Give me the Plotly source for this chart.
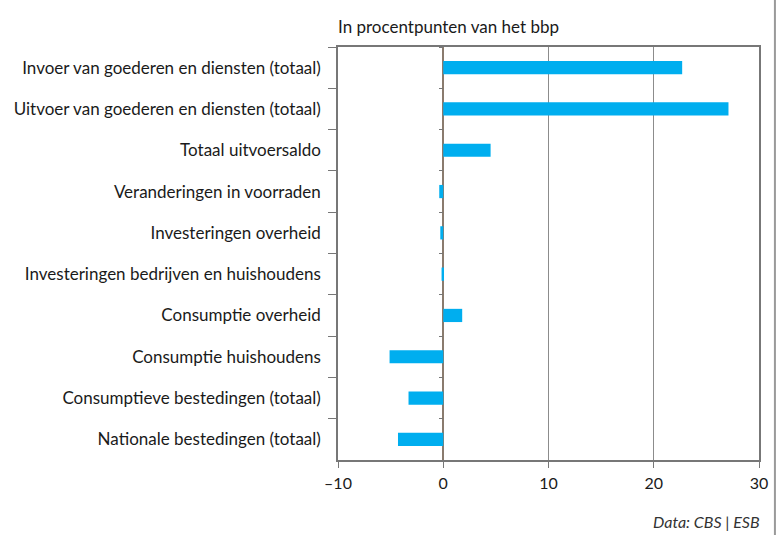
import plotly.graph_objects as go

categories = [
    "Invoer van goederen en diensten (totaal)",
    "Uitvoer van goederen en diensten (totaal)",
    "Totaal uitvoersaldo",
    "Veranderingen in voorraden",
    "Investeringen overheid",
    "Investeringen bedrijven en huishoudens",
    "Consumptie overheid",
    "Consumptie huishoudens",
    "Consumptieve bestedingen (totaal)",
    "Nationale bestedingen (totaal)",
]
values = [22.7, 27.1, 4.5, -0.38, -0.28, -0.16, 1.8, -5.1, -3.3, -4.3]

x_ticks = [-10, 0, 10, 20, 30]
x_ticktext = ["\u201310", "0", "10", "20", "30"]

title_text = "In procentpunten van het bbp"
source_text = "<i>Data: CBS | ESB</i>"

FONT = "Lato"
BAR = "#00AEEF"
GRID = "#8c8c8c"

n = len(categories)

fig = go.Figure()
fig.add_trace(go.Bar(
    y=categories, x=values, orientation="h",
    marker=dict(color=BAR, line=dict(width=0)),
    width=0.32, hoverinfo="x+y", showlegend=False,
))
# invisible trace on second y-axis (for tick marks along zero line)
fig.add_trace(go.Scatter(
    y=categories, x=[0] * n, yaxis="y2",
    mode="markers", marker=dict(opacity=0, size=1), showlegend=False, hoverinfo="skip",
))

fig.update_layout(
    width=780, height=535,
    margin=dict(l=338, r=19, t=47, b=75),
    paper_bgcolor="white", plot_bgcolor="white",
    font=dict(family=FONT, size=17, color="#1a1a1a"),
    xaxis=dict(
        range=[-10, 30], tickvals=x_ticks, ticktext=x_ticktext,
        showgrid=True, gridcolor=GRID, gridwidth=1,
        zeroline=True, zerolinecolor="#8a7b6e", zerolinewidth=1.5,
        showline=True, linecolor="#777777", linewidth=1.5, mirror=True,
        ticks="outside", ticklen=6, tickcolor="#777777",
        ticklabelstandoff=2,
        tickfont=dict(size=16, color="#1a1a1a"),
        fixedrange=True,
    ),
    yaxis=dict(
        type="category", categoryorder="array", categoryarray=categories,
        range=[n - 0.5, -0.5], autorange=False,
        tickson="boundaries", ticks="outside", ticklen=8, tickcolor="#777777",
        ticklabelstandoff=12,
        showline=True, linecolor="#777777", linewidth=1.5, mirror=True,
        showgrid=False, tickfont=dict(size=17, color="#1a1a1a"),
        fixedrange=True,
    ),
    yaxis2=dict(
        type="category", categoryorder="array", categoryarray=categories,
        overlaying="y", anchor="free", position=0.25, side="left",
        range=[n - 0.5, -0.5], autorange=False, matches="y",
        tickson="boundaries", ticks="outside", ticklen=4, tickcolor="#777777",
        showticklabels=False, showline=False, showgrid=False, fixedrange=True,
    ),
    annotations=[
        dict(text=title_text, xref="paper", yref="paper", x=0, y=1,
             xanchor="left", yanchor="bottom", yshift=8, xshift=-2, showarrow=False,
             font=dict(size=17, color="#1a1a1a")),
        dict(text=source_text, xref="paper", yref="paper", x=1, y=0,
             xanchor="right", yanchor="top", yshift=-50, xshift=3, showarrow=False,
             font=dict(size=16, color="#333333")),
    ],
    shapes=[
        dict(type="line", xref="paper", yref="paper",
             x0=(777 - 338) / 423, x1=(777 - 338) / 423,
             y0=-75 / 413, y1=1 + 47 / 413,
             line=dict(color="#9a9a9a", width=2)),
    ],
)

fig.write_html(
    "out.html",
    config={"displayModeBar": False},
    post_script="document.body.style.margin='0';document.body.style.padding='0';",
)
